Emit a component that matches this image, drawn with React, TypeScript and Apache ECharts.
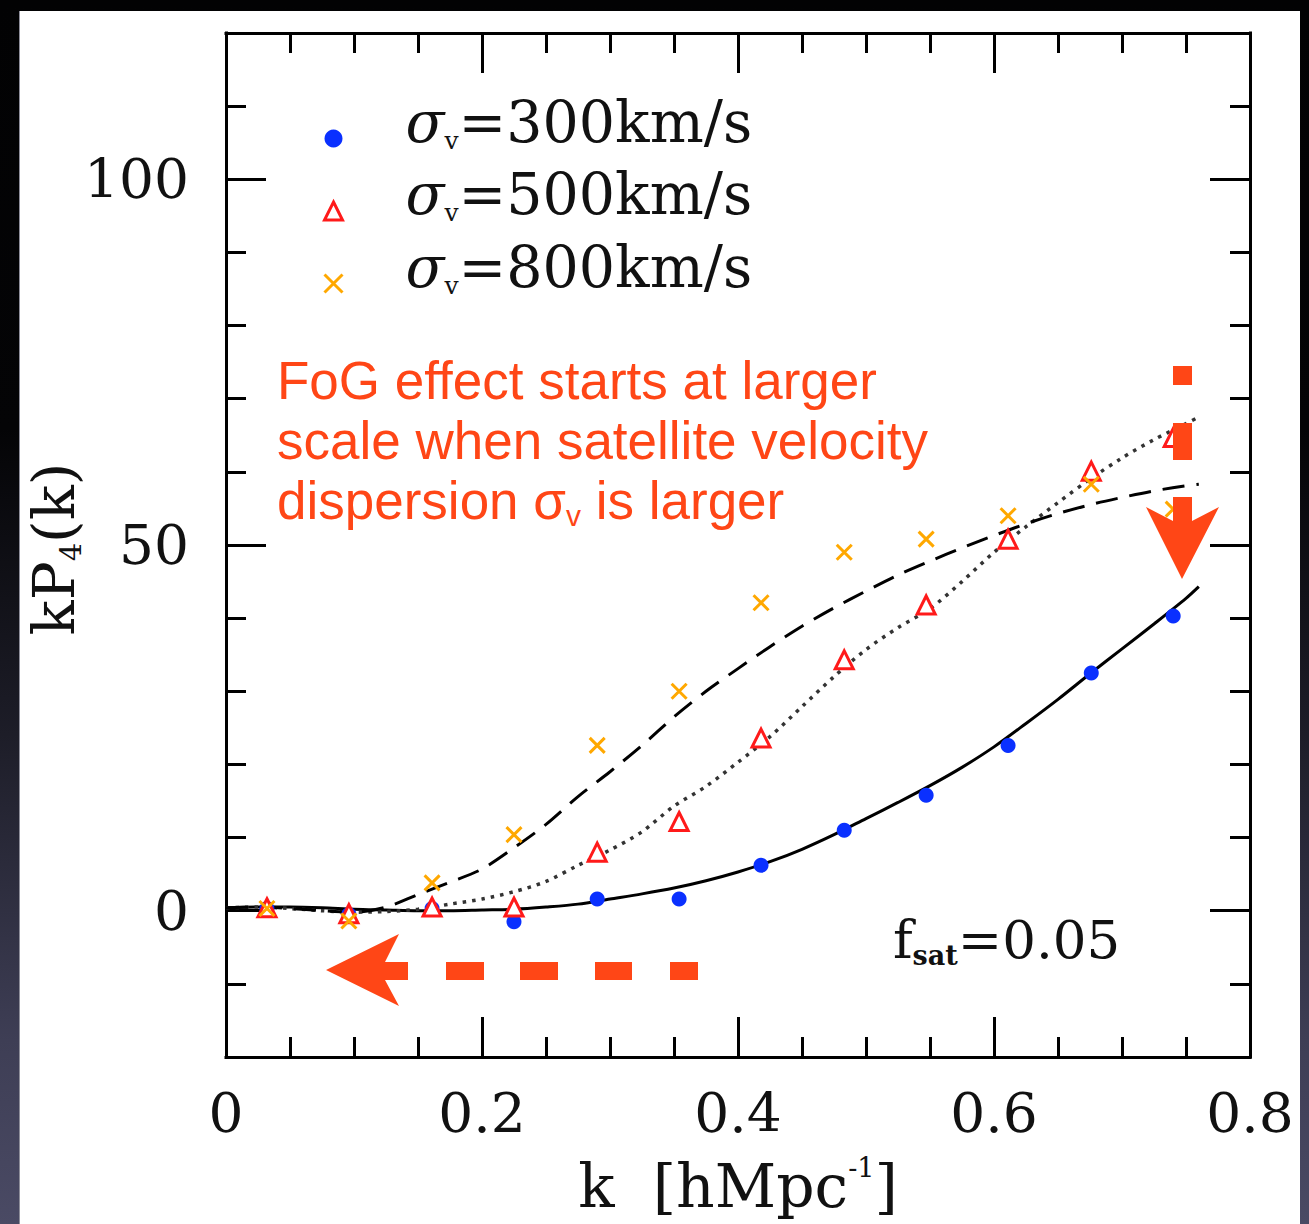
import React, { useEffect, useRef } from "react";
import * as echarts from "echarts";

const SERIF = "'DejaVu Serif', 'Liberation Serif', serif";
const SANS = "'Liberation Sans', Arial, 'Noto Sans', sans-serif";
const NOTE_RED = "#ff4616";
const INK = "#111111";

// Measured k bins [h/Mpc]
const kBins = [0.032, 0.096, 0.161, 0.225, 0.29, 0.354, 0.418, 0.483, 0.547, 0.611, 0.676, 0.74];
// Satellite velocity dispersions [km/s]
const velocities = [300, 500, 800];
// Measured kP4(k) for each velocity dispersion
const kp4Sigma300 = [0.3, -0.5, 0.3, -1.5, 1.6, 1.6, 6.2, 11.0, 15.8, 22.6, 32.5, 40.3];
const kp4Sigma500 = [0.4, -0.4, 0.5, 0.5, 8.0, 12.2, 23.6, 34.3, 41.8, 50.8, 60.1, 64.7];
const kp4Sigma800 = [0.3, -1.4, 3.8, 10.4, 22.6, 30.0, 42.1, 49.0, 50.8, 54.0, 58.3, 54.9];

// Model curves
const modelK = [
  0, 0.025, 0.05, 0.075, 0.1, 0.125, 0.15, 0.175, 0.2, 0.225, 0.25, 0.275, 0.3, 0.325, 0.35, 0.375,
  0.4, 0.425, 0.45, 0.475, 0.5, 0.525, 0.55, 0.575, 0.6, 0.625, 0.65, 0.675, 0.7, 0.725, 0.75, 0.76,
];
const model300 = [
  0.4, 0.5, 0.5, 0.4, 0.2, 0.1, 0.0, 0.0, 0.1, 0.2, 0.5, 0.9, 1.6, 2.3, 3.1, 4.1,
  5.3, 6.7, 8.4, 10.4, 12.6, 14.8, 17.1, 19.6, 22.4, 25.6, 28.9, 32.4, 35.8, 39.2, 42.7, 44.3,
];
const model500 = [
  0.4, 0.5, 0.3, 0.0, -0.2, -0.1, 0.2, 0.9, 1.6, 2.6, 4.0, 6.2, 8.3, 10.8, 14.3, 17.0,
  20.3, 23.8, 27.9, 32.0, 35.7, 38.7, 41.3, 45.0, 49.0, 52.5, 55.8, 59.0, 61.9, 64.4, 66.6, 67.5,
];
const model800 = [
  0.4, 0.5, 0.3, 0.0, -0.2, 0.5, 2.2, 3.9, 5.7, 8.6, 11.8, 15.6, 19.0, 22.6, 26.5, 30.0,
  33.1, 36.1, 38.9, 41.4, 43.7, 45.9, 47.8, 49.6, 51.3, 52.9, 54.3, 55.5, 56.5, 57.4, 58.1, 58.3,
];

const yMajorTicks = [0, 50, 100];

const zip = (xs: number[], ys: number[]) => xs.map((x, i) => [x, ys[i]]);
const seriesName = (v: number) => `σv=${v}km/s`;

const frameLine = { color: "#000", width: 3, cap: "square" as const };
const tickLine = { color: "#000", width: 3 };

const xAxisBase = {
  type: "value" as const,
  min: 0,
  max: 0.8,
  interval: 0.2,
  axisLine: { show: true, onZero: false, lineStyle: frameLine },
  axisTick: { show: true, inside: true, length: 40, lineStyle: tickLine },
  minorTick: { show: true, splitNumber: 4, length: 20, lineStyle: tickLine },
  splitLine: { show: false },
  minorSplitLine: { show: false },
};

const yRange = { type: "value" as const, min: -20, max: 120, interval: 10 };

function buildOption() {
  const markerStyles = [
    { symbol: "circle", symbolSize: 15, itemStyle: { color: "#0a30ff", borderWidth: 0, opacity: 1 } },
    {
      symbol: "triangle",
      symbolSize: 18,
      itemStyle: { color: "#ffffff", borderColor: "#ff1a1a", borderWidth: 3, opacity: 1 },
    },
    {
      symbol: "path://M0,0L16,16M16,0L0,16",
      symbolSize: 15,
      itemStyle: { color: "#ffa800", borderColor: "#ffa800", borderWidth: 3, opacity: 1 },
    },
  ];
  const measured = [kp4Sigma300, kp4Sigma500, kp4Sigma800];

  const scatterSeries = velocities.map((v, i) => ({
    type: "scatter" as const,
    name: seriesName(v),
    data: zip(kBins, measured[i]),
    symbol: markerStyles[i].symbol,
    symbolSize: markerStyles[i].symbolSize,
    itemStyle: markerStyles[i].itemStyle,
    z: 3,
  }));

  const lineBase = {
    type: "line" as const,
    showSymbol: false,
    symbol: "none",
    smooth: 0.3,
    silent: true,
    z: 2,
  };

  const lineSeries = [
    { ...lineBase, name: "model 300", data: zip(modelK, model300), lineStyle: { color: "#000", width: 3 } },
    {
      ...lineBase,
      name: "model 500",
      data: zip(modelK, model500),
      lineStyle: { color: "#333333", width: 3.5, type: [3.5, 6] },
    },
    {
      ...lineBase,
      name: "model 800",
      data: zip(modelK, model800),
      lineStyle: { color: "#000", width: 3, type: [22, 12] },
    },
  ];

  const legendRich = {
    sig: { fontFamily: SERIF, fontStyle: "italic", fontSize: 57, color: INK, lineHeight: 62, padding: [0, 0, 0, 58] },
    sub: { fontFamily: SERIF, fontSize: 25, color: INK, lineHeight: 24, verticalAlign: "bottom" },
    val: { fontFamily: SERIF, fontSize: 57, color: INK, lineHeight: 62 },
  };

  const noteText = { fontFamily: SANS, fontSize: 53, fill: NOTE_RED };

  return {
    animation: false,
    backgroundColor: "transparent",
    grid: { left: 226, top: 33, width: 1024, height: 1024, containLabel: false },
    xAxis: [
      {
        ...xAxisBase,
        position: "bottom",
        axisLabel: { margin: 28, fontSize: 55, fontFamily: SERIF, color: INK },
      },
      { ...xAxisBase, position: "top", axisLabel: { show: false } },
    ],
    yAxis: [
      {
        ...yRange,
        position: "left",
        axisLine: { show: true, onZero: false, lineStyle: frameLine },
        axisTick: { show: true, inside: true, length: 40, customValues: yMajorTicks, lineStyle: tickLine },
        axisLabel: { customValues: yMajorTicks, margin: 37, fontSize: 55, fontFamily: SERIF, color: INK },
        splitLine: { show: false },
      },
      {
        ...yRange,
        position: "left",
        axisLine: { show: false, onZero: false },
        axisTick: { show: true, inside: true, length: 20, lineStyle: tickLine },
        axisLabel: { show: false },
        splitLine: { show: false },
      },
      {
        ...yRange,
        position: "right",
        axisLine: { show: true, onZero: false, lineStyle: frameLine },
        axisTick: { show: true, inside: true, length: 40, customValues: yMajorTicks, lineStyle: tickLine },
        axisLabel: { show: false },
        splitLine: { show: false },
      },
      {
        ...yRange,
        position: "right",
        axisLine: { show: false, onZero: false },
        axisTick: { show: true, inside: true, length: 20, lineStyle: tickLine },
        axisLabel: { show: false },
        splitLine: { show: false },
      },
    ],
    legend: {
      orient: "vertical",
      left: 318,
      top: 88,
      itemWidth: 18,
      itemHeight: 18,
      itemGap: 13,
      selectedMode: false,
      data: velocities.map((v, i) => ({
        name: seriesName(v),
        icon: markerStyles[i].symbol,
        itemStyle: markerStyles[i].itemStyle,
      })),
      formatter: (name: string) => `{sig|σ}{sub|v}{val|${name.slice(2)}}`,
      textStyle: { fontFamily: SERIF, fontSize: 57, color: INK, padding: [0, 0, 34, 0], rich: legendRich },
    },
    series: [...lineSeries, ...scatterSeries],
    graphic: [
      // axis titles
      {
        type: "text",
        x: 54,
        y: 549,
        rotation: Math.PI / 2,
        z: 50,
        style: {
          text: "{m|kP}{s|4}{m|(k)}",
          align: "center",
          verticalAlign: "middle",
          rich: {
            m: { fontFamily: SERIF, fontSize: 58, fill: INK, lineHeight: 62 },
            s: { fontFamily: SERIF, fontSize: 29, fill: INK, lineHeight: 4, verticalAlign: "bottom" },
          },
        },
      },
      {
        type: "text",
        x: 738,
        y: 1186,
        z: 50,
        style: {
          text: "{m|k  [hMpc}{s|-1}{m|]}",
          align: "center",
          verticalAlign: "middle",
          rich: {
            m: { fontFamily: SERIF, fontSize: 60, fill: INK, lineHeight: 64 },
            s: { fontFamily: SERIF, fontSize: 27, fill: INK, lineHeight: 36, verticalAlign: "top" },
          },
        },
      },
      // satellite fraction
      {
        type: "text",
        x: 893,
        y: 939,
        z: 50,
        style: {
          text: "{m|f}{s|sat}{m|=0.05}",
          align: "left",
          verticalAlign: "middle",
          rich: {
            m: { fontFamily: SERIF, fontSize: 53, fill: INK, lineHeight: 60 },
            s: { fontFamily: SERIF, fontWeight: "bold", fontSize: 27, fill: INK, lineHeight: 18, verticalAlign: "bottom" },
          },
        },
      },
      // annotation
      { type: "text", x: 277, y: 380, z: 100, style: { ...noteText, text: "FoG effect starts at larger", verticalAlign: "middle" } },
      { type: "text", x: 277, y: 440, z: 100, style: { ...noteText, text: "scale when satellite velocity", verticalAlign: "middle" } },
      {
        type: "text",
        x: 277,
        y: 500,
        z: 100,
        style: {
          text: "{m|dispersion σ}{s|v}{m| is larger}",
          verticalAlign: "middle",
          rich: {
            m: { fontFamily: SANS, fontSize: 53, fill: NOTE_RED, lineHeight: 60 },
            s: { fontFamily: SANS, fontSize: 30, fill: NOTE_RED, lineHeight: 41, verticalAlign: "bottom" },
          },
        },
      },
      // downward dashed arrow
      { type: "rect", z: 100, shape: { x: 1173, y: 366, width: 19, height: 19 }, style: { fill: NOTE_RED } },
      { type: "rect", z: 100, shape: { x: 1173, y: 423, width: 19, height: 37 }, style: { fill: NOTE_RED } },
      {
        type: "polygon",
        z: 100,
        shape: {
          points: [
            [1173, 497],
            [1192, 497],
            [1192, 521],
            [1219, 507],
            [1182, 579],
            [1146, 507],
            [1173, 521],
          ],
        },
        style: { fill: NOTE_RED },
      },
      // leftward dashed arrow
      {
        type: "polygon",
        z: 100,
        shape: {
          points: [
            [326, 970],
            [399, 934],
            [385, 962],
            [408, 962],
            [408, 980],
            [385, 980],
            [399, 1006],
          ],
        },
        style: { fill: NOTE_RED },
      },
      { type: "rect", z: 100, shape: { x: 446, y: 962, width: 38, height: 18 }, style: { fill: NOTE_RED } },
      { type: "rect", z: 100, shape: { x: 520, y: 962, width: 38, height: 18 }, style: { fill: NOTE_RED } },
      { type: "rect", z: 100, shape: { x: 595, y: 962, width: 37, height: 18 }, style: { fill: NOTE_RED } },
      { type: "rect", z: 100, shape: { x: 670, y: 962, width: 28, height: 18 }, style: { fill: NOTE_RED } },
    ],
  };
}

export default function App() {
  const ref = useRef<HTMLDivElement>(null);
  useEffect(() => {
    if (!ref.current) return;
    const chart = echarts.init(ref.current, null, { renderer: "svg" });
    chart.setOption(buildOption() as any);
    return () => chart.dispose();
  }, []);
  return (
    <div
      style={{
        position: "absolute",
        left: 0,
        top: 0,
        width: 1309,
        height: 1224,
        overflow: "hidden",
        background:
          "linear-gradient(180deg, #020203 0%, #040406 35%, #1d1d28 60%, #3e3e55 85%, #4a4a64 100%)",
      }}
    >
      <div
        style={{
          position: "absolute",
          left: 20,
          top: 11,
          width: 1280,
          height: 1213,
          background: "#ffffff",
          boxShadow: "-1px 0 0 #8e8e9a",
        }}
      />
      <div ref={ref} style={{ position: "absolute", left: 0, top: 0, width: 1309, height: 1224 }} />
    </div>
  );
}
